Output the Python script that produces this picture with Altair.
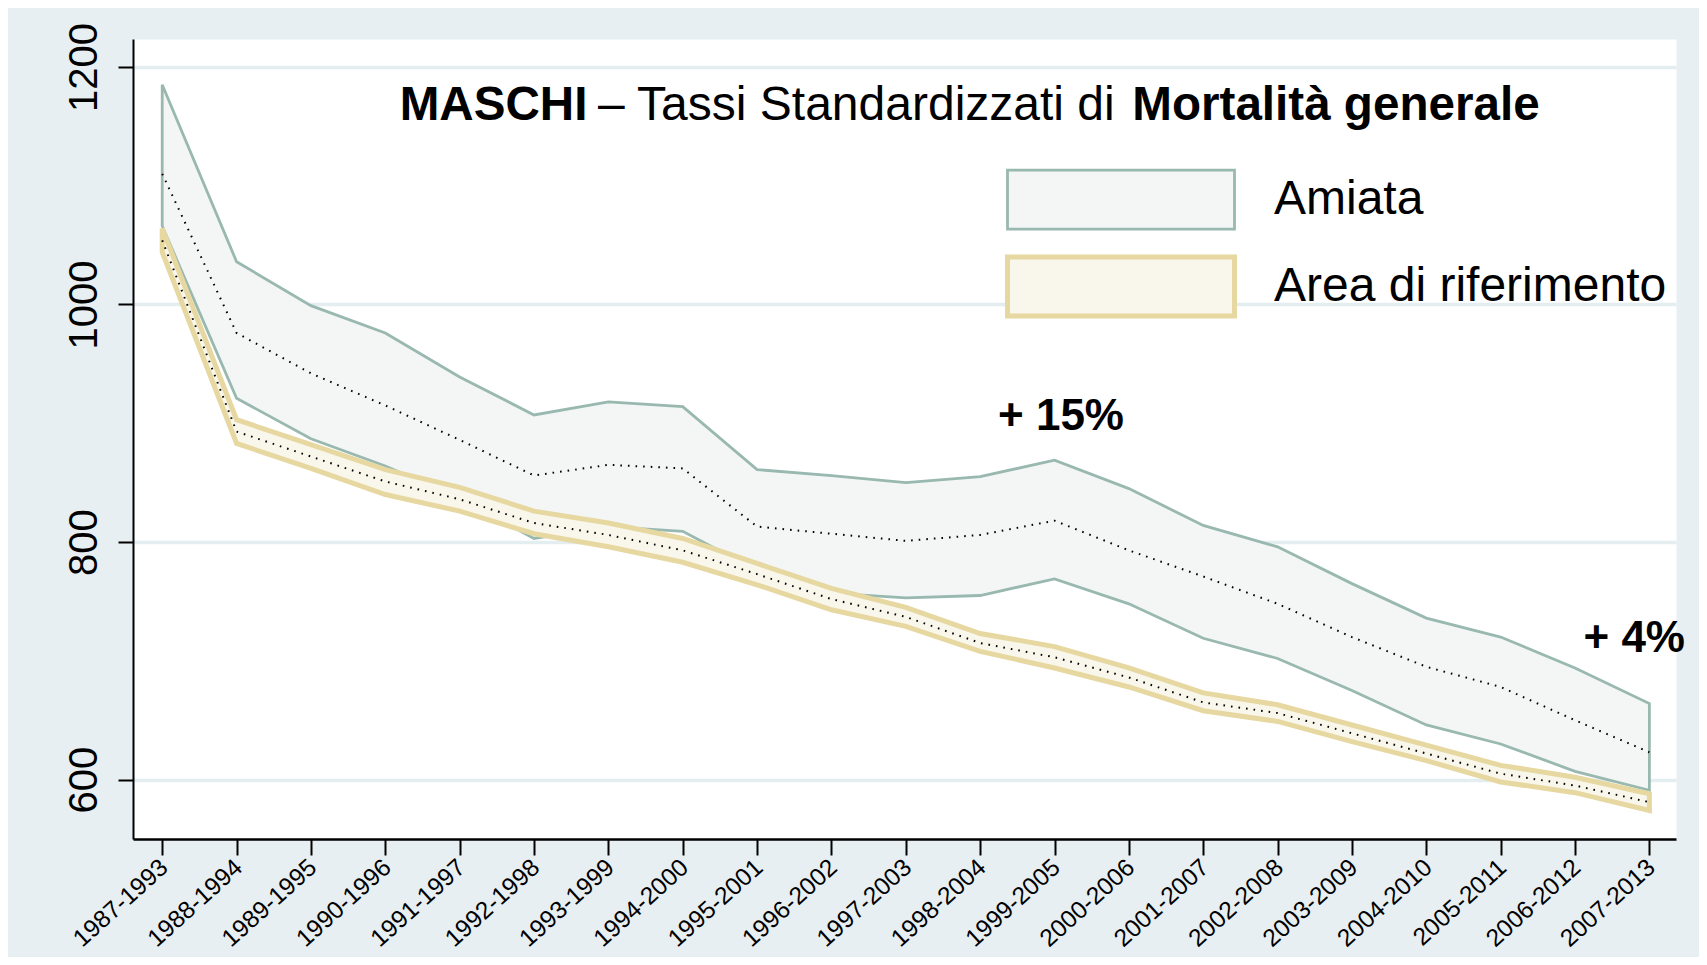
import altair as alt
import pandas as pd

periods = ["1987-1993", "1988-1994", "1989-1995", "1990-1996", "1991-1997", "1992-1998",
           "1993-1999", "1994-2000", "1995-2001", "1996-2002", "1997-2003", "1998-2004",
           "1999-2005", "2000-2006", "2001-2007", "2002-2008", "2003-2009", "2004-2010",
           "2005-2011", "2006-2012", "2007-2013"]

amiata_hi = [1185, 1036, 999, 976, 939, 907, 918, 914, 861, 856, 850, 855, 869, 845, 814, 796, 765, 736, 720, 694, 664]
amiata_lo = [1066, 921, 887, 864, 837, 803, 813, 809, 776, 757, 753, 755, 769, 748, 719, 702, 675, 646, 630, 607, 591]
amiata_mid = [1110, 976, 942, 915, 886, 856, 865, 862, 813, 807, 801, 806, 818, 793, 771, 748, 720, 695, 678, 650, 623]

rif_hi = [1064, 903, 882, 861, 846, 826, 816, 803, 782, 761, 745, 723, 712, 694, 673, 663, 646, 629, 612, 602, 588]
rif_lo = [1044, 883, 862, 840, 826, 807, 796, 783, 764, 743, 729, 708, 694, 678, 658, 649, 632, 616, 598, 589, 574]
rif_mid = [1054, 893, 872, 851, 836, 816, 806, 793, 773, 752, 737, 715, 703, 686, 665, 656, 639, 622, 605, 595, 581]

series_names = ["Amiata", "Area di riferimento"]
fill_colors = ["#f3f6f5", "#f9f7eb"]
stroke_colors = ["#99b8b0", "#e6d8a0"]
stroke_widths = [2.8, 5]

y_ticks = [600, 800, 1000, 1200]

# annotations (data-space anchors)
title_bold_text = ["MASCHI", "Mortalità generale"]
title_bold_x = [3.193, 13.046]
title_norm_text = ["– Tassi Standardizzati di"]
title_norm_x = [5.86]
title_y = 1155
pct_text = ["+ 15%", "+ 4%"]
pct_x = [12.087, 19.796]
pct_y = [894.6, 707.3]

rows = []
for i, p in enumerate(periods):
    rows.append(dict(idx=i, period=p, series=series_names[0], lo=amiata_lo[i], hi=amiata_hi[i], mid=amiata_mid[i]))
    rows.append(dict(idx=i, period=p, series=series_names[1], lo=rif_lo[i], hi=rif_hi[i], mid=rif_mid[i]))
df = pd.DataFrame(rows)

tb = pd.DataFrame({"x": title_bold_x, "y": [title_y] * len(title_bold_x), "t": title_bold_text})
tn = pd.DataFrame({"x": title_norm_x, "y": [title_y] * len(title_norm_x), "t": title_norm_text})
tp = pd.DataFrame({"x": pct_x, "y": pct_y, "t": pct_text})

FONT = "Liberation Sans"
label_expr = "[" + ",".join("'" + p + "'" for p in periods) + "][datum.value]"

x_scale = alt.Scale(domain=[-0.393, 20.358], nice=False, zero=False)
y_scale = alt.Scale(domain=[550, 1223.5], nice=False, zero=False)

x_axis = alt.Axis(values=list(range(len(periods))), labelExpr=label_expr, labelAngle=318,
                  labelAlign="right", labelBaseline="top", labelFontSize=24.5, labelPadding=0,
                  labelOffset=-6,
                  tickSize=16, tickWidth=2, tickColor="black", domainColor="black", domainWidth=2.5,
                  grid=False, title=None, labelFont=FONT, labelColor="black", labelOverlap=False)
y_axis = alt.Axis(values=y_ticks, format="d", labelAngle=270, labelAlign="center", labelBaseline="bottom",
                  labelFontSize=40, labelPadding=14, tickSize=15, tickWidth=2, tickColor="black",
                  grid=True, gridColor="#e4edf0", gridWidth=3.5, domainColor="black", domainWidth=2,
                  title=None, labelFont=FONT, labelColor="black")

legend = alt.Legend(title=None, orient="none", legendX=957, legendY=130.6,
                    symbolType="M-4,-1.04H4V1.04H-4Z", symbolSize=3220.6,
                    labelFontSize=48, labelOffset=122, labelLimit=0, rowPadding=11, padding=0,
                    labelFont=FONT, labelColor="black", symbolOpacity=1)

band = alt.Chart(df).mark_area(opacity=1).encode(
    x=alt.X("idx:Q", scale=x_scale, axis=x_axis),
    y=alt.Y("hi:Q", scale=y_scale, axis=y_axis),
    y2="lo:Q",
    fill=alt.Fill("series:N", scale=alt.Scale(domain=series_names, range=fill_colors), legend=legend),
    stroke=alt.Stroke("series:N", scale=alt.Scale(domain=series_names, range=stroke_colors), legend=legend),
    strokeWidth=alt.StrokeWidth("series:N", scale=alt.Scale(type="ordinal", domain=series_names, range=stroke_widths), legend=legend),
)

dots = alt.Chart(df).mark_line(color="black", strokeDash=[1.6, 6], strokeWidth=2).encode(
    x=alt.X("idx:Q", scale=x_scale),
    y=alt.Y("mid:Q", scale=y_scale),
    detail="series:N",
)

t_bold = alt.Chart(tb).mark_text(font=FONT, fontSize=47.6, fontWeight="bold", align="left",
                                 baseline="alphabetic", color="black").encode(
    x=alt.X("x:Q", scale=x_scale), y=alt.Y("y:Q", scale=y_scale), text="t:N")
t_norm = alt.Chart(tn).mark_text(font=FONT, fontSize=48, fontWeight="normal", align="left",
                                 baseline="alphabetic", color="black").encode(
    x=alt.X("x:Q", scale=x_scale), y=alt.Y("y:Q", scale=y_scale), text="t:N")
t_pct = alt.Chart(tp).mark_text(font=FONT, fontSize=44, fontWeight="bold", align="center",
                                baseline="alphabetic", color="black").encode(
    x=alt.X("x:Q", scale=x_scale), y=alt.Y("y:Q", scale=y_scale), text="t:N")

chart = alt.layer(band, dots, t_bold, t_norm, t_pct).properties(
    width=1543, height=800,
    autosize=alt.AutoSizeParams(type="none"),
    padding={"left": 125, "top": 31, "right": 23, "bottom": 118},
).configure(background="#e8eff2", font=FONT).configure_view(fill="white", stroke="transparent")

chart.save("out.html", embed_options={"renderer": "svg", "actions": False})
